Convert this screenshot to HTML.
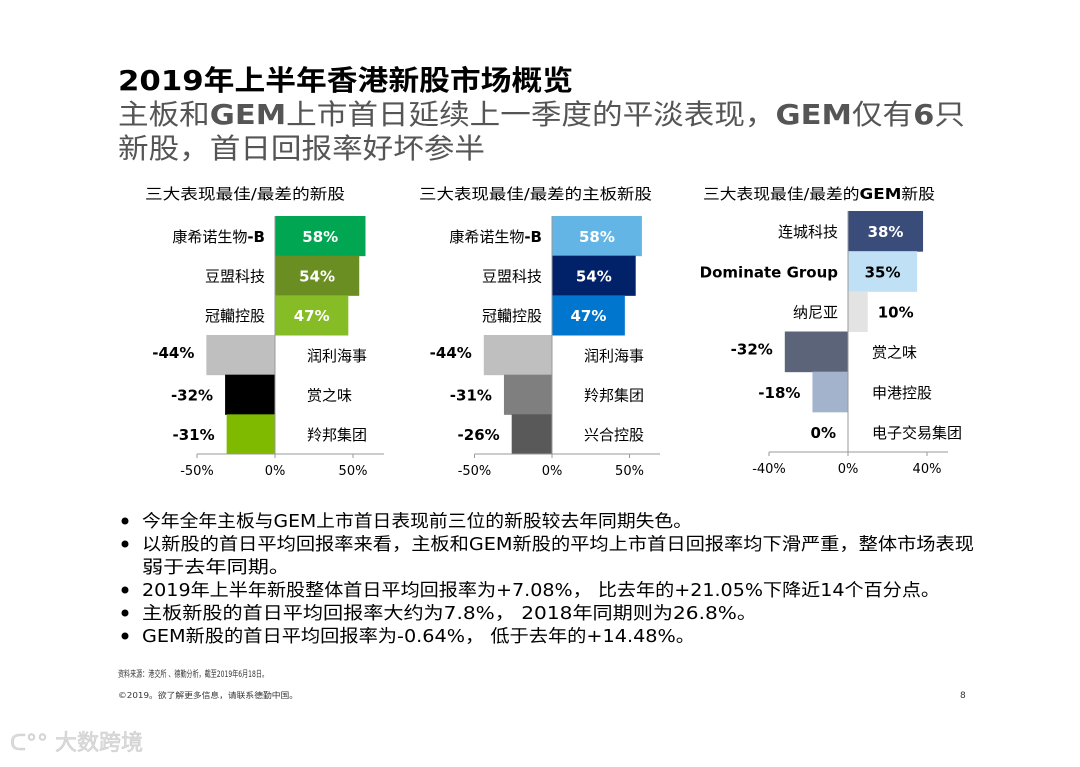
<!DOCTYPE html>
<html><head><meta charset="utf-8">
<style>
html,body{margin:0;padding:0;background:#fff;}
body{width:1080px;height:763px;overflow:hidden;font-family:"DejaVu Sans","Liberation Sans","Noto Sans CJK SC",sans-serif;}
svg text{font-family:"DejaVu Sans","Liberation Sans","Noto Sans CJK SC",sans-serif;}
</style></head>
<body>
<svg id="page" width="1080" height="763" viewBox="0 0 1080 763" xmlns="http://www.w3.org/2000/svg">
  <text x="118" y="90" font-size="28" font-weight="bold" fill="#000" textLength="455" lengthAdjust="spacingAndGlyphs">2019年上半年香港新股市场概览</text>
  <text x="118" y="124" font-size="28" fill="#555" textLength="847" lengthAdjust="spacingAndGlyphs">主板和<tspan font-weight="bold">GEM</tspan>上市首日延续上一季度的平淡表现，<tspan font-weight="bold">GEM</tspan>仅有<tspan font-weight="bold">6</tspan>只</text>
  <text x="118" y="158" font-size="28" fill="#555" textLength="367" lengthAdjust="spacingAndGlyphs">新股，首日回报率好坏参半</text>

  <text x="145" y="199" font-size="15" fill="#000" textLength="200" lengthAdjust="spacingAndGlyphs">三大表现最佳/最差的新股</text>
  <text x="419" y="199" font-size="15" fill="#000" textLength="233" lengthAdjust="spacingAndGlyphs">三大表现最佳/最差的主板新股</text>
  <text x="703" y="199" font-size="15" fill="#000" textLength="232" lengthAdjust="spacingAndGlyphs">三大表现最佳/最差的<tspan font-weight="bold">GEM</tspan>新股</text>

  <g id="charts"></g>

  <g font-size="17.5" fill="#000">
    <circle cx="125" cy="521" r="3.5" fill="#000"/>
    <text x="142" y="527" textLength="550" lengthAdjust="spacingAndGlyphs">今年全年主板与GEM上市首日表现前三位的新股较去年同期失色。</text>
    <circle cx="125" cy="544" r="3.5" fill="#000"/>
    <text x="142" y="550" textLength="832" lengthAdjust="spacingAndGlyphs">以新股的首日平均回报率来看，主板和GEM新股的平均上市首日回报率均下滑严重，整体市场表现</text>
    <text x="142" y="573" textLength="148" lengthAdjust="spacingAndGlyphs">弱于去年同期。</text>
    <circle cx="125" cy="590" r="3.5" fill="#000"/>
    <text x="142" y="596" textLength="798" lengthAdjust="spacingAndGlyphs">2019年上半年新股整体首日平均回报率为+7.08%， 比去年的+21.05%下降近14个百分点。</text>
    <circle cx="125" cy="613" r="3.5" fill="#000"/>
    <text x="142" y="619" textLength="615" lengthAdjust="spacingAndGlyphs">主板新股的首日平均回报率大约为7.8%， 2018年同期则为26.8%。</text>
    <circle cx="125" cy="636" r="3.5" fill="#000"/>
    <text x="142" y="642" textLength="553" lengthAdjust="spacingAndGlyphs">GEM新股的首日平均回报率为-0.64%， 低于去年的+14.48%。</text>
  </g>

  <text x="118" y="677" font-size="9" fill="#333" textLength="150" lengthAdjust="spacingAndGlyphs">资料来源：港交所 、德勤分析，截至2019年6月18日。</text>
  <text x="118" y="698" font-size="8" fill="#333" textLength="180" lengthAdjust="spacingAndGlyphs">©2019。欲了解更多信息，请联系德勤中国。</text>
  <text x="960" y="698" font-size="9" fill="#333">8</text>
  <text x="10" y="750" font-size="22" fill="#ddd" stroke="#ccc" stroke-width="0.6">ᑕ°° 大数跨境</text>
</svg>
<script>
const c1Names = ["康希诺生物-B","豆盟科技","冠轥控股","润利海事","赏之味","羚邦集团"];
const c1Values = [58,54,47,-44,-32,-31];
const c1Labels = ["58%","54%","47%","-44%","-32%","-31%"];
const c1Colors = ["#00a651","#6b8e23","#86bc25","#bfbfbf","#000000","#7fba00"];
const c1Ticks = [-50,0,50];
const c1TickLabels = ["-50%","0%","50%"];

const c2Names = ["康希诺生物-B","豆盟科技","冠轥控股","润利海事","羚邦集团","兴合控股"];
const c2Values = [58,54,47,-44,-31,-26];
const c2Labels = ["58%","54%","47%","-44%","-31%","-26%"];
const c2Colors = ["#62b5e5","#012169","#0076ce","#bfbfbf","#7f7f7f","#595959"];
const c2Ticks = [-50,0,50];
const c2TickLabels = ["-50%","0%","50%"];

const c3Names = ["连城科技","Dominate Group","纳尼亚","赏之味","申港控股","电子交易集团"];
const c3Values = [38,35,10,-32,-18,0];
const c3Labels = ["38%","35%","10%","-32%","-18%","0%"];
const c3Colors = ["#3a4d7a","#bfe0f5","#e3e3e3","#5b6478","#a3b3cc","#ffffff"];
const c3Ticks = [-40,0,40];
const c3TickLabels = ["-40%","0%","40%"];

const NS="http://www.w3.org/2000/svg";
const root=document.getElementById('charts');
function mk(tag,attrs,txt){const e=document.createElementNS(NS,tag);for(const k in attrs)e.setAttribute(k,attrs[k]);if(txt!==undefined)e.textContent=txt;return e;}

function nameText(attrs,name){
  const t=mk('text',attrs);
  if(/^[A-Z]/.test(name)){t.setAttribute('font-weight','bold');t.textContent=name;}
  else if(/-B$/.test(name)){
    t.appendChild(document.createTextNode(name.slice(0,-2)));
    const s=mk('tspan',{'font-weight':'bold'},'-B');
    t.appendChild(s);
  } else t.textContent=name;
  return t;
}

function drawChart(id,cfg,names,values,labels,colors,ticks,tickLabels){
  const g=mk('g',{});
  
  
  root.appendChild(g);
  const x=v=>cfg.zero+(v/cfg.unit)*cfg.px;
  const bh=(cfg.bottom-cfg.top)/cfg.rows;
  values.forEach((v,i)=>{
    const y0=cfg.top+i*bh;
    const x0=Math.min(x(0),x(v)), w=Math.abs(x(v)-x(0));
    const r=mk('rect',{x:x0,y:y0,width:w,height:bh+0.5,fill:colors[i]});
    
    
    g.appendChild(r);
    const cy=y0+bh/2+6;
    let nm;
    if(v>0){
      nm=nameText({x:x(0)-10,y:cy,'text-anchor':'end','font-size':15,fill:'#000'},names[i]);
      const inside=w>50;
      const lb=mk('text',{x:inside?(x(0)+x(v))/2:x(v)+10,y:cy,'text-anchor':inside?'middle':'start','font-size':15,'font-weight':'bold',fill:inside&&colors[i]!=="#bfe0f5"?'#fff':'#000'},labels[i]);
      
      
      g.appendChild(lb);
    } else {
      nm=nameText({x:x(0)+cfg.nameGap,y:cy,'text-anchor':'start','font-size':15,fill:'#000'},names[i]);
      const lb=mk('text',{x:Math.min(x(v),x(0))-cfg.valGap,y:cy-(i===3?3:0),'text-anchor':'end','font-size':15,'font-weight':'bold',fill:'#000'},labels[i]);
      
      
      g.appendChild(lb);
    }
    
    
    g.appendChild(nm);
  });
  const zl=mk('line',{x1:x(0),x2:x(0),y1:cfg.top,y2:cfg.axisY,stroke:'#999','stroke-width':1});
  
  
  g.appendChild(zl);
  const ax=mk('line',{x1:x(ticks[0]),x2:cfg.axisEnd,y1:cfg.axisY,y2:cfg.axisY,stroke:'#999','stroke-width':1});
  
  
  g.appendChild(ax);
  ticks.forEach((t,i)=>{
    const tk=mk('line',{x1:x(t),x2:x(t),y1:cfg.axisY,y2:cfg.axisY+4,stroke:'#999'});
    
    
    g.appendChild(tk);
    const tl=mk('text',{x:x(t),y:cfg.axisY+21,'text-anchor':'middle','font-size':13,fill:'#000'},tickLabels[i]);
    
    
    g.appendChild(tl);
  });
}
drawChart('chart-all-ipos',{zero:275,unit:50,px:78,top:216,bottom:454,rows:6,axisY:454,axisEnd:384,nameGap:32,valGap:12},c1Names,c1Values,c1Labels,c1Colors,c1Ticks,c1TickLabels);
drawChart('chart-main-board',{zero:552,unit:50,px:77.5,top:216,bottom:454,rows:6,axisY:454,axisEnd:660,nameGap:32,valGap:12},c2Names,c2Values,c2Labels,c2Colors,c2Ticks,c2TickLabels);
drawChart('chart-gem',{zero:848,unit:40,px:79,top:211,bottom:452,rows:6,axisY:452,axisEnd:948,nameGap:24,valGap:12},c3Names,c3Values,c3Labels,c3Colors,c3Ticks,c3TickLabels);
</script>
</body></html>
